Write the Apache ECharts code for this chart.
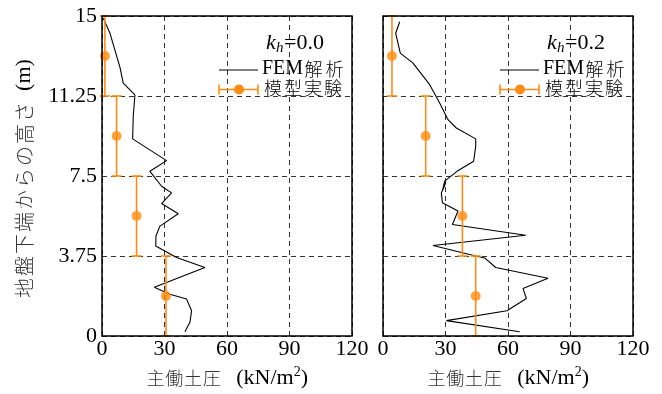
<!DOCTYPE html>
<html><head><meta charset="utf-8">
<script src="https://cdn.jsdelivr.net/npm/echarts@6/dist/echarts.min.js"></script>
<style>html,body{margin:0;padding:0;background:#fff}#c{width:662px;height:394px}</style>
</head><body><div id="c"></div>
<script>
// ---- data ----
const xTicks = [0, 30, 60, 90, 120];
const yTicks = [0, 3.75, 7.5, 11.25, 15];
const femLeft = [[0.6,14.9],[3.8,14.2],[6.2,13.4],[8.6,12.6],[10.2,11.85],[15.8,11.3],[15.0,10.3],[14.7,9.24],[31,8.22],[23,7.72],[28.6,7.02],[33.4,6.71],[28.6,6.21],[36.6,5.73],[27.8,5.15],[25.9,4.69],[25.8,4.22],[35.8,3.68],[49.4,3.21],[25.1,2.28],[32.6,1.96],[40.6,1.73],[43,1.18],[42.2,0.64],[39.8,0.2]];
const femRight = [[8.0,14.73],[6.1,14.19],[8.3,13.26],[14.4,12.79],[22.4,11.78],[27.2,10.92],[31.2,10.14],[35.2,9.75],[44.5,9.24],[44.5,8.89],[43.5,8.19],[35.5,7.72],[29.6,7.26],[28.5,6.79],[30.1,7.18],[28,6.71],[28.5,6.25],[36,5.86],[33.3,5.23],[68.5,4.72],[24,4.24],[44.5,3.75],[48.8,3.66],[54.1,3.21],[79.2,2.71],[67.2,2.23],[68.8,1.76],[59.5,1.18],[30.4,0.72],[65.6,0.2]];
const expY = [13.125, 9.375, 5.625, 1.875];
const expLow = [11.25, 7.5, 3.75, 0];
const expHigh = [15, 11.25, 7.5, 3.75];
const expLeftX = [1.4, 7.0, 16.6, 30.7];
const expRightX = [4.3, 20.5, 38.1, 44.5];
const khLabels = ['0.0', '0.2'];

const ORANGE = '#ff8c12';
const SERIF = '"Liberation Serif","DejaVu Serif",serif';
const JP = '"Noto Sans CJK JP",sans-serif';

function jpRich(str, tag){ return Array.from(str).map(c=>'{'+tag+'|'+c+'}').join(''); }

const chart = echarts.init(document.getElementById('c'), null, {renderer:'canvas'});

function xAx(i){
  return {
    type:'value', gridIndex:i, min:0, max:120, interval:30,
    axisLine:{show:false}, axisTick:{show:false},
    axisLabel:{color:'#000', fontFamily:SERIF, fontSize:22, margin:2,
      formatter:v=> xTicks.includes(v)? String(v):''},
    splitLine:{show:true, lineStyle:{color:'#333', type:[5,4], width:1}},
    name: jpRich('主働土圧','jp') + '{sp| }{en|(kN/m}{sup|2}{en|)}', nameLocation:'middle', nameGap:29,
    nameTextStyle:{rich:{
      jp:{fontFamily:JP, fontSize:18, color:'#333', fontWeight:300, padding:[0,0.4,0,0.4]},
      sp:{fontFamily:SERIF, fontSize:22, width:15},
      en:{fontFamily:SERIF, fontSize:22, color:'#000'},
      sup:{fontFamily:SERIF, fontSize:14, color:'#000', verticalAlign:'top', padding:[0,0,12,0]}
    }}
  };
}
function yAx(i, showLabel){
  const a = {
    type:'value', gridIndex:i, min:0, max:15, interval:3.75,
    axisLine:{show:false}, axisTick:{show:false},
    axisLabel:{show:showLabel, color:'#000', fontFamily:SERIF, fontSize:22, margin:5,
      formatter:v=> yTicks.includes(v)? String(v):''},
    splitLine:{show:true, lineStyle:{color:'#333', type:[5,4], width:1}}
  };
  if (showLabel){
    a.name = jpRich('地盤下端からの高さ','jp') + '{sp| }{en|(m)}';
    a.nameLocation = 'middle';
    a.nameGap = 67;
    a.nameRotate = 90;
    a.nameTextStyle = {padding:[0,6,0,0], rich:{
      jp:{fontFamily:JP, fontSize:20, color:'#333', fontWeight:300, padding:[0,1,0,1]},
      sp:{fontFamily:SERIF, fontSize:22, width:10},
      en:{fontFamily:SERIF, fontSize:22, color:'#000'}
    }};
  }
  return a;
}

function errData(xs){ return xs.map((x,i)=>[x, expLow[i], expHigh[i]]); }
function errSeries(idx, xs){
  return {
    type:'custom', xAxisIndex:idx, yAxisIndex:idx, clip:false,
    data: errData(xs),
    renderItem:(params, api)=>{
      const x = api.value(0);
      const lo = api.coord([x, api.value(1)]);
      const hi = api.coord([x, api.value(2)]);
      const cw = 5;
      const st = {stroke:ORANGE, lineWidth:1.6};
      return {type:'group', children:[
        {type:'line', shape:{x1:lo[0],y1:lo[1],x2:hi[0],y2:hi[1]}, style:st},
        {type:'line', shape:{x1:lo[0]-cw,y1:lo[1],x2:lo[0]+cw,y2:lo[1]}, style:st},
        {type:'line', shape:{x1:hi[0]-cw,y1:hi[1],x2:hi[0]+cw,y2:hi[1]}, style:st}
      ]};
    },
    z:3
  };
}
function ptSeries(idx, xs){
  return {type:'scatter', xAxisIndex:idx, yAxisIndex:idx, symbol:'circle', symbolSize:10,
    itemStyle:{color:ORANGE}, data: xs.map((x,i)=>[x, expY[i]]), z:4, clip:false};
}
function femSeries(idx, d){
  return {type:'line', xAxisIndex:idx, yAxisIndex:idx, data:d, symbol:'none',
    lineStyle:{color:'#000', width:1.1}, z:2, clip:true};
}

function legendGraphics(off, kh){
  const g = [];
  g.push({type:'text', x:266+off, y:32, style:{
    text:'k', x:0, y:0, align:'left', verticalAlign:'top',
    font:'italic 22px "Liberation Serif", serif', fill:'#000'
  }, z:10});
  g.push({type:'text', x:276+off, y:41, style:{
    text:'h', x:0, y:0, align:'left', verticalAlign:'top',
    font:'italic 15px "Liberation Serif", serif', fill:'#000'
  }, z:10});
  g.push({type:'text', x:284+off, y:32, style:{
    text:'=' + kh, x:0, y:0, align:'left', verticalAlign:'top',
    font:'22px "Liberation Serif", serif', fill:'#000'
  }, z:10});
  g.push({type:'line', shape:{x1:219+off,y1:70,x2:258+off,y2:70}, style:{stroke:'#000', lineWidth:1.1}, z:10});
  g.push({type:'text', x:262+off, y:59, style:{
    text:'{e|FEM}' + jpRich('解析','j'),
    rich:{e:{fontFamily:SERIF, fontSize:20, color:'#000'}, j:{fontFamily:JP, fontSize:18, color:'#333', fontWeight:300, padding:[0,1.5,0,1.5]}}
  }, z:10});
  const y2 = 89.5;
  const st = {stroke:ORANGE, lineWidth:1.6};
  g.push({type:'line', shape:{x1:219+off,y1:y2,x2:258+off,y2:y2}, style:st, z:10});
  g.push({type:'line', shape:{x1:219+off,y1:y2-5,x2:219+off,y2:y2+5}, style:st, z:10});
  g.push({type:'line', shape:{x1:258+off,y1:y2-5,x2:258+off,y2:y2+5}, style:st, z:10});
  g.push({type:'circle', shape:{cx:239+off, cy:y2, r:5}, style:{fill:ORANGE}, z:10});
  g.push({type:'text', x:263+off, y:79, style:{
    text: jpRich('模型実験','j'),
    rich:{j:{fontFamily:JP, fontSize:18, color:'#333', fontWeight:300, padding:[0,1,0,1]}}
  }, z:10});
  return g;
}

chart.setOption({
  animation:false,
  backgroundColor:'#fff',
  grid:[
    {left:102, top:16, width:250, height:321, show:true, borderColor:'#000', borderWidth:1.5, backgroundColor:'transparent', z:5},
    {left:383, top:16, width:250, height:321, show:true, borderColor:'#000', borderWidth:1.5, backgroundColor:'transparent', z:5}
  ],
  xAxis:[xAx(0), xAx(1)],
  yAxis:[yAx(0,true), yAx(1,false)],
  series:[
    femSeries(0, femLeft), errSeries(0, expLeftX), ptSeries(0, expLeftX),
    femSeries(1, femRight), errSeries(1, expRightX), ptSeries(1, expRightX)
  ],
  graphic: legendGraphics(0, khLabels[0]).concat(legendGraphics(281, khLabels[1]))
});
</script></body></html>
